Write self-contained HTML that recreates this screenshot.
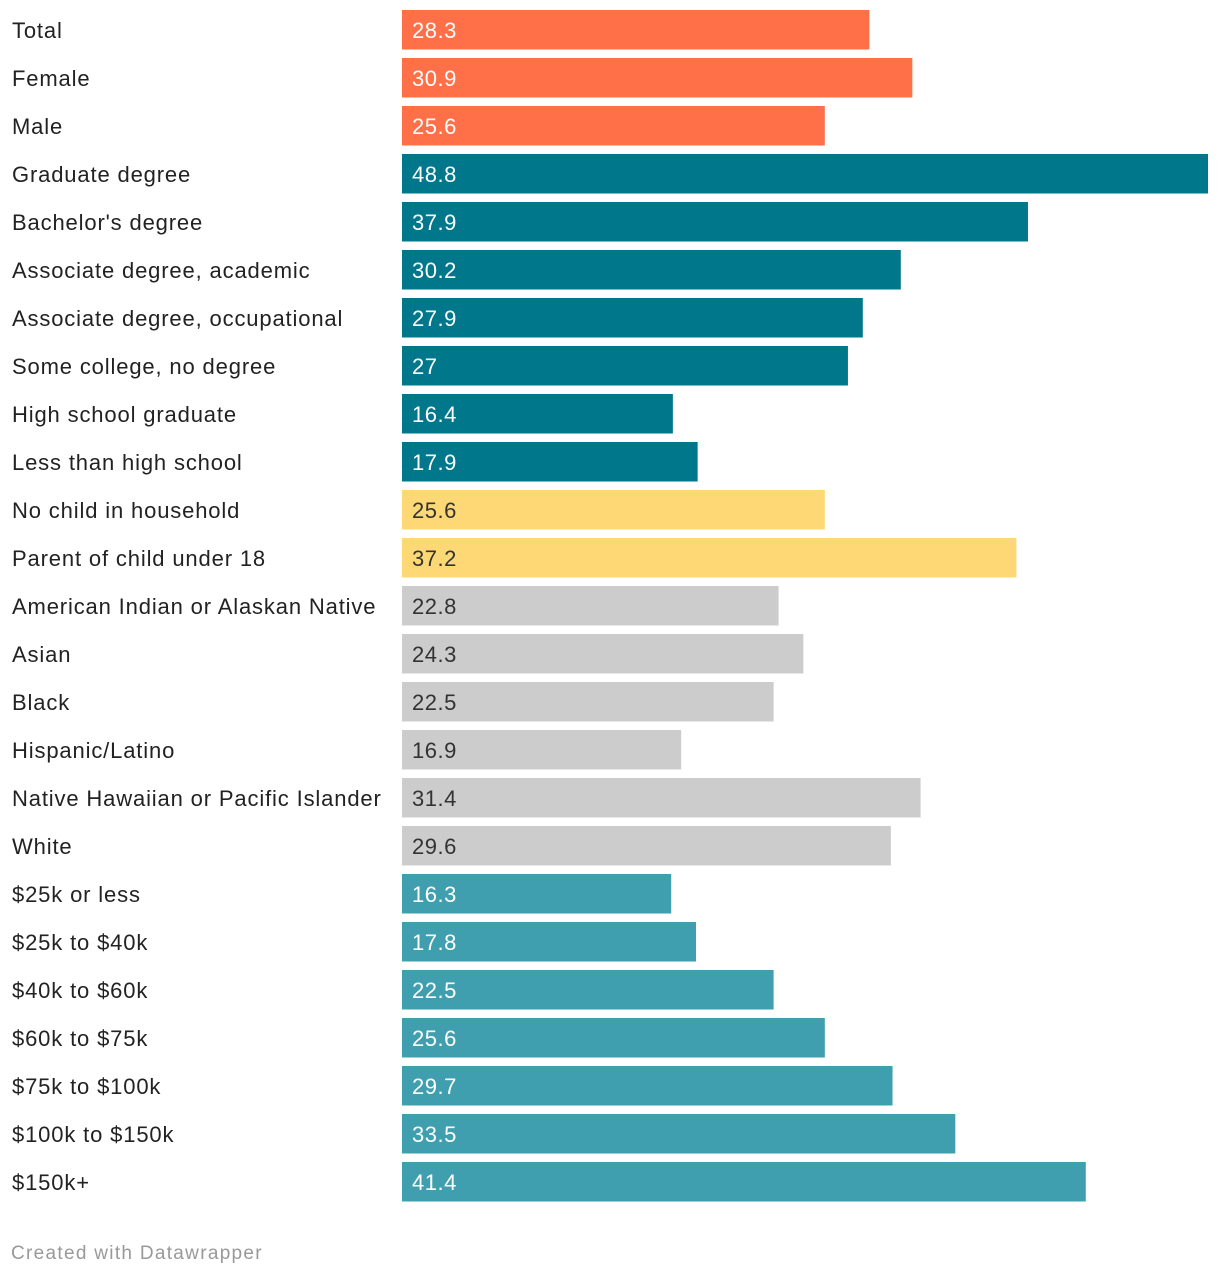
<!DOCTYPE html>
<html><head><meta charset="utf-8">
<style>
html,body{margin:0;padding:0;background:#fff;}
body{width:1220px;height:1278px;position:relative;overflow:hidden;font-family:"Liberation Sans",sans-serif;}
#chart{position:absolute;left:0;top:0;}
.foot{position:absolute;left:11px;top:1243px;font-size:19px;color:#999;letter-spacing:1.3px;}
</style></head><body>
<svg id="chart" width="1220" height="1230" xmlns="http://www.w3.org/2000/svg"></svg>
<div class="foot">Created with Datawrapper</div>
<script>
const categories = ["Total","Female","Male","Graduate degree","Bachelor's degree","Associate degree, academic","Associate degree, occupational","Some college, no degree","High school graduate","Less than high school","No child in household","Parent of child under 18","American Indian or Alaskan Native","Asian","Black","Hispanic/Latino","Native Hawaiian or Pacific Islander","White","$25k or less","$25k to $40k","$40k to $60k","$60k to $75k","$75k to $100k","$100k to $150k","$150k+"];
const values = [28.3,30.9,25.6,48.8,37.9,30.2,27.9,27,16.4,17.9,25.6,37.2,22.8,24.3,22.5,16.9,31.4,29.6,16.3,17.8,22.5,25.6,29.7,33.5,41.4];
const groups = ["g","g","g","e","e","e","e","e","e","e","p","p","r","r","r","r","r","r","i","i","i","i","i","i","i"];
const colorMap = {g:"#FF7049",e:"#00778B",p:"#FDD875",r:"#CCCCCC",i:"#409FAE"};
const textMap = {g:"#fff",e:"#fff",p:"#333",r:"#333",i:"#fff"};
const svg = document.getElementById('chart');
const NS = "http://www.w3.org/2000/svg";
const x0 = 402, maxV = 48.8, maxW = 806;
const xs = v => v / maxV * maxW;
const ys = i => 10 + i * 48;
const barH = 39.5;
categories.forEach((c, i) => {
  const y = ys(i);
  const lab = document.createElementNS(NS, 'text');
  
  
  lab.setAttribute('x', 12); lab.setAttribute('y', y + barH/2 + 8);
  lab.setAttribute('font-size', '22'); lab.setAttribute('fill', '#222');
  lab.setAttribute('letter-spacing', '0.85');
  lab.setAttribute('font-family', 'Liberation Sans, sans-serif');
  lab.textContent = c;
  svg.appendChild(lab);
  const r = document.createElementNS(NS, 'rect');
  
  
  r.setAttribute('x', x0); r.setAttribute('y', y);
  r.setAttribute('width', xs(values[i])); r.setAttribute('height', barH);
  r.setAttribute('fill', colorMap[groups[i]]);
  svg.appendChild(r);
  const t = document.createElementNS(NS, 'text');
  
  
  t.setAttribute('x', x0 + 10); t.setAttribute('y', y + barH/2 + 8);
  t.setAttribute('font-size', '22'); t.setAttribute('fill', textMap[groups[i]]);
  t.setAttribute('letter-spacing', '0.5');
  t.setAttribute('font-family', 'Liberation Sans, sans-serif');
  t.textContent = String(values[i]);
  svg.appendChild(t);
});
</script>
</body></html>
